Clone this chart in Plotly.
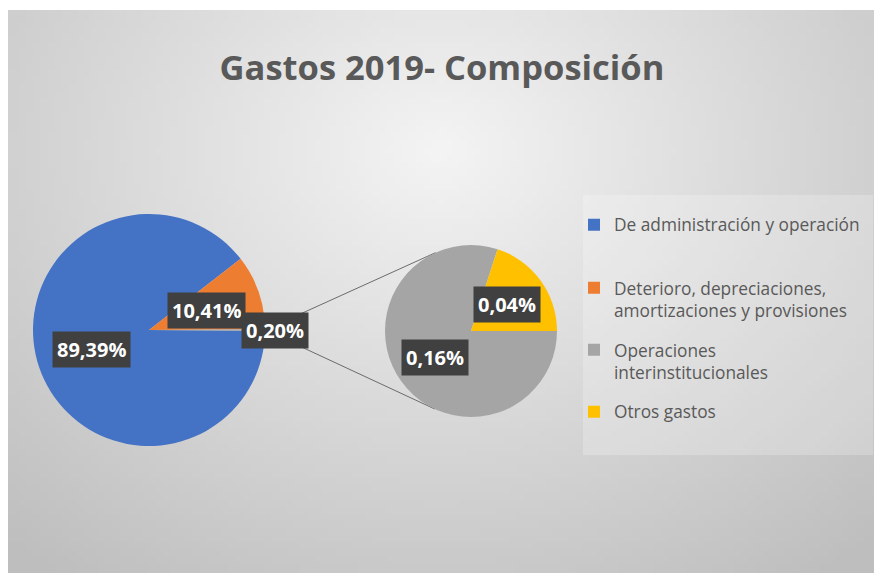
import base64
import math
import struct
import zlib

import plotly.graph_objects as go

OFF_X, OFF_Y = 0, 0
FW, FH = 874, 573

# ---------------- data ----------------
main_labels = ["De administración y operación",
               "Deterioro, depreciaciones, amortizaciones y provisiones",
               "Otros"]
main_values = [89.39, 10.41, 0.20]
main_colors = ["#4472C4", "#ED7D31", "#A5A5A5"]

sec_labels = ["Operaciones interinstitucionales", "Otros gastos"]
sec_values = [0.16, 0.04]
sec_colors = ["#A5A5A5", "#FFC000"]

legend_texts = ["De administración y operación",
                "Deterioro, depreciaciones,<br>amortizaciones y provisiones",
                "Operaciones<br>interinstitucionales",
                "Otros gastos"]
legend_values = [89.39, 10.41, 0.16, 0.04]
legend_colors = ["#4472C4", "#ED7D31", "#A5A5A5", "#FFC000"]

title_text = "Gastos 2019- Composición"

# ---------------- geometry (screen pixels) ----------------
MAIN_C, MAIN_R = (149.0, 330.0), 116.0
SEC_C, SEC_R = (471.0, 331.0), 86.0
LEGEND_ROWS = [225, 288, 350, 412]   # centre of first text line of each entry
LEGEND_TEXT_X = 612


def px(x):
    return (x - OFF_X) / FW


def py(y):
    return 1 - (y - OFF_Y) / FH


def domain(c, r):
    return dict(x=[px(c[0] - r), px(c[0] + r)], y=[py(c[1] + r), py(c[1] - r)])


def fmt(v):
    return f"{v:.2f}".replace(".", ",") + "%"


# ---------------- background gradient image ----------------
def gradient_png(gw, gh, x0, y0, x1, y1):
    rows = []
    for j in range(gh):
        yy = y0 + (y1 - y0) * (j + 0.5) / gh
        row = []
        for i in range(gw):
            xx = x0 + (x1 - x0) * (i + 0.5) / gw
            d = math.hypot((xx - 440) / 520, (yy - 150) / 420)
            row.append(max(190, min(246, int(round(244 - 43 * d)))))
        rows.append(row)
    raw = b"".join(b"\x00" + bytes(r) for r in rows)

    def chunk(t, d):
        return struct.pack(">I", len(d)) + t + d + struct.pack(">I", zlib.crc32(t + d) & 0xFFFFFFFF)

    data = (b"\x89PNG\r\n\x1a\n"
            + chunk(b"IHDR", struct.pack(">IIBBBBB", gw, gh, 8, 0, 0, 0, 0))
            + chunk(b"IDAT", zlib.compress(raw))
            + chunk(b"IEND", b""))
    return "data:image/png;base64," + base64.b64encode(data).decode()


BG_X0, BG_Y0, BG_X1, BG_Y1 = 8, 10, OFF_X + FW, OFF_Y + FH
bg_src = gradient_png(120, 80, BG_X0, BG_Y0, BG_X1, BG_Y1)

fig = go.Figure()

# main pie (clockwise, "Otros" slice centred at 3 o'clock)
other_frac = main_values[-1] / sum(main_values)
main_rot = 90 + other_frac * 360 / 2
fig.add_trace(go.Pie(
    labels=main_labels, values=main_values, sort=False, direction="clockwise",
    rotation=main_rot, marker=dict(colors=main_colors, line=dict(width=0)),
    textinfo="none", hoverinfo="label+percent", showlegend=False,
    domain=domain(MAIN_C, MAIN_R),
))

# secondary pie
sec_rot = 90
fig.add_trace(go.Pie(
    labels=sec_labels, values=sec_values, sort=False, direction="clockwise",
    rotation=sec_rot, marker=dict(colors=sec_colors, line=dict(width=0)),
    textinfo="none", hoverinfo="label+value", showlegend=False,
    domain=domain(SEC_C, SEC_R),
))

# legend entries: one tiny pie per category, each in its own legend box
legend_font = dict(family="Open Sans", size=17.3, color="#595959")
legend_layouts = {}
for i, (txt, val, col) in enumerate(zip(legend_texts, legend_values, legend_colors)):
    name = "legend" if i == 0 else f"legend{i + 1}"
    fig.add_trace(go.Pie(
        labels=[txt], values=[val], marker=dict(colors=[col], line=dict(width=0)),
        textinfo="none", hoverinfo="skip", showlegend=True, legend=name,
        domain=dict(x=[0.99995, 1.0], y=[0.0, 0.00005]), sort=False,
    ))
    legend_layouts[name] = dict(
        x=px(LEGEND_TEXT_X - 38), xanchor="left",
        y=py(LEGEND_ROWS[i] - 18), yanchor="top",
        bgcolor="rgba(0,0,0,0)", borderwidth=0, valign="top",
        font=legend_font,
    )

# ---------------- data labels ----------------
annotations = []


def slice_labels(values, c, r, rot, factors):
    total = sum(values)
    ang = rot
    out = []
    for v, f in zip(values, factors):
        span = v / total * 360
        mid = math.radians(ang + span / 2)  # clockwise from 12 o'clock
        x = c[0] + f * r * math.sin(mid)
        y = c[1] - f * r * math.cos(mid)
        out.append((x, y, fmt(v)))
        ang += span
    return out


lab_pos = slice_labels(main_values, MAIN_C, MAIN_R, main_rot, [0.52, 0.52, 1.09])
lab_pos += slice_labels(sec_values, SEC_C, SEC_R, sec_rot, [0.52, 0.52])
for x, y, t in lab_pos:
    annotations.append(dict(
        x=px(x), y=py(y), xref="paper", yref="paper", text=t, showarrow=False,
        xanchor="center", yanchor="middle", bgcolor="#404040", borderpad=4,
        font=dict(family="Open Sans", size=20, color="#FFFFFF", weight="bold"),
    ))

# ---------------- connector lines (tangents) ----------------
P = (MAIN_C[0] + MAIN_R, MAIN_C[1])
dx, dy = P[0] - SEC_C[0], P[1] - SEC_C[1]
dist = math.hypot(dx, dy)
theta0 = math.atan2(dy, dx)
phi = math.acos(SEC_R / dist)
shapes = [dict(type="rect", xref="paper", yref="paper",
               x0=px(583), x1=px(873), y0=py(455), y1=py(195),
               fillcolor="rgba(255,255,255,0.22)", line=dict(width=0), layer="below")]
for s in (1, -1):
    t = theta0 + s * phi
    tx, ty = SEC_C[0] + SEC_R * math.cos(t), SEC_C[1] + SEC_R * math.sin(t)
    shapes.append(dict(type="line", xref="paper", yref="paper",
                       x0=px(P[0]), y0=py(P[1]), x1=px(tx), y1=py(ty),
                       line=dict(color="#6b6b6b", width=1), layer="below"))

fig.update_layout(
    width=FW, height=FH, autosize=False,
    margin=dict(l=0, r=0, t=0, b=0),
    paper_bgcolor="#FFFFFF",
    title=dict(text=title_text, x=px(442), xanchor="center", y=py(68), yanchor="middle",
               xref="paper", yref="paper",
               font=dict(family="Open Sans", size=34.5, color="#595959", weight="bold")),
    images=[dict(source=bg_src, xref="paper", yref="paper", x=px(BG_X0), y=py(BG_Y0),
                 sizex=px(BG_X1) - px(BG_X0), sizey=py(BG_Y0) - py(BG_Y1), sizing="stretch",
                 xanchor="left", yanchor="top", layer="below")],
    annotations=annotations,
    shapes=shapes,
    **legend_layouts,
)

fig.write_html(
    "out.html",
    config={"displayModeBar": False},
    post_script="document.body.style.margin='0';document.documentElement.style.overflow='hidden';",
)
